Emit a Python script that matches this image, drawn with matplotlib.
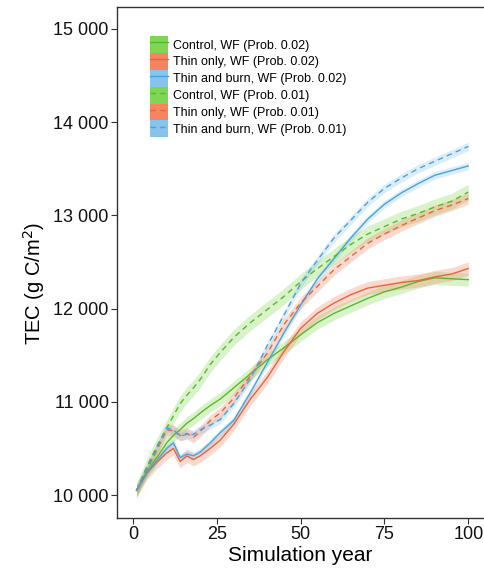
import matplotlib
matplotlib.use('Agg')
import matplotlib.pyplot as plt
import numpy as np
from matplotlib.ticker import FuncFormatter
from matplotlib.patches import Patch
from matplotlib.lines import Line2D
from matplotlib.legend_handler import HandlerTuple

plt.rcParams['font.family'] = ['Liberation Sans', 'DejaVu Sans']

# simulation years where values were read
years = [1, 4, 7, 10, 12, 14, 16, 18, 20, 23, 26, 30, 35, 40, 45, 50,
         55, 60, 65, 70, 75, 80, 85, 90, 95, 100]

# Prob. 0.02 (solid)
control_02 = [10050, 10250, 10400, 10560, 10640, 10700, 10770, 10820, 10880, 10960,
              11030, 11150, 11300, 11450, 11580, 11720, 11850, 11950, 12030, 12110,
              12180, 12230, 12290, 12330, 12320, 12310]
thin_02 = [10050, 10230, 10350, 10450, 10500, 10360, 10420, 10380, 10420, 10500,
           10590, 10760, 11030, 11260, 11540, 11790, 11950, 12060, 12150, 12220,
           12250, 12280, 12300, 12340, 12370, 12430]
burn_02 = [10050, 10230, 10370, 10500, 10560, 10400, 10440, 10420, 10460, 10560,
           10670, 10800, 11100, 11420, 11740, 12040, 12320, 12540, 12760, 12960,
           13120, 13240, 13340, 13430, 13480, 13530]

# Prob. 0.01 (dashed)
control_01 = [10050, 10300, 10520, 10720, 10850, 10980, 11070, 11150, 11240, 11400,
              11530, 11690, 11850, 11990, 12130, 12290, 12430, 12560, 12690, 12800,
              12880, 12960, 13020, 13090, 13150, 13250]
thin_01 = [10050, 10260, 10480, 10700, 10690, 10640, 10660, 10620, 10680, 10800,
           10880, 11040, 11280, 11520, 11830, 12060, 12240, 12420, 12560, 12700,
           12800, 12890, 12970, 13050, 13110, 13180]
burn_01 = [10050, 10280, 10500, 10720, 10700, 10630, 10650, 10650, 10700, 10750,
           10810, 10980, 11250, 11600, 11930, 12270, 12520, 12760, 12950, 13140,
           13290, 13400, 13500, 13580, 13660, 13740]

# half width of the shaded bands
band_half = {'control_02': 70, 'thin_02': 70, 'burn_02': 40,
             'control_01': 85, 'thin_01': 60, 'burn_01': 45}

labels = ['Control, WF (Prob. 0.02)', 'Thin only, WF (Prob. 0.02)',
          'Thin and burn, WF (Prob. 0.02)', 'Control, WF (Prob. 0.01)',
          'Thin only, WF (Prob. 0.01)', 'Thin and burn, WF (Prob. 0.01)']

GREEN = '#5cb82a'
RED = '#e8643c'
BLUE = '#4aa3d8'
GREEN_F = '#7fd652'
RED_F = '#f6845f'
BLUE_F = '#86c4ec'

DASH = (0, (4, 3))
series = [
    ('control_02', control_02, GREEN, GREEN_F, '-'),
    ('thin_02', thin_02, RED, RED_F, '-'),
    ('burn_02', burn_02, BLUE, BLUE_F, '-'),
    ('control_01', control_01, GREEN, GREEN_F, DASH),
    ('thin_01', thin_01, RED, RED_F, DASH),
    ('burn_01', burn_01, BLUE, BLUE_F, DASH),
]

fig = plt.figure(figsize=(4.84, 5.70), dpi=100)
ax = fig.add_axes([0.242, 0.091, 0.758, 0.897])

x = np.array(years)
for key, vals, col, fcol, ls in series:
    v = np.array(vals, dtype=float)
    h = band_half[key]
    ax.fill_between(x, v - h, v + h, color=fcol, alpha=0.3, linewidth=0)
for key, vals, col, fcol, ls in series:
    ax.plot(x, vals, color=col, linestyle=ls, linewidth=1.0)

ax.set_xlim(-4.8, 104.7)
ax.set_ylim(9752, 15237)
ax.set_xticks([0, 25, 50, 75, 100])
ax.set_yticks([10000, 11000, 12000, 13000, 14000, 15000])
ax.yaxis.set_major_formatter(FuncFormatter(lambda y, _: f"{int(y):,}".replace(',', ' ')))
ax.tick_params(labelsize=13, length=4, width=0.8, color='#333333', labelcolor='#111111',
               pad=2)
ax.spines['right'].set_visible(False)
for s in ['left', 'bottom', 'top']:
    ax.spines[s].set_color('#333333')
    ax.spines[s].set_linewidth(1.0)

ax.set_xlabel('Simulation year', fontsize=15, labelpad=2)
ax.set_ylabel('TEC (g C/m$^2$)', fontsize=14.5)
ax.yaxis.set_label_coords(-0.19, 0.46)

# legend: filled key with the line drawn over it
handles = []
for key, vals, col, fcol, ls in series:
    handles.append((Patch(facecolor=fcol, edgecolor='none'),
                    Line2D([], [], color=col, linestyle=ls, linewidth=1.0)))
ax.legend(handles, labels, handler_map={tuple: HandlerTuple(ndivide=1, pad=0)},
          loc='upper left', bbox_to_anchor=(0.065, 0.96), frameon=False,
          fontsize=9, handlelength=1.5, handleheight=1.7, handletextpad=0.4,
          labelspacing=0.0, borderpad=0.2)

fig.savefig('out.png', dpi=100)
